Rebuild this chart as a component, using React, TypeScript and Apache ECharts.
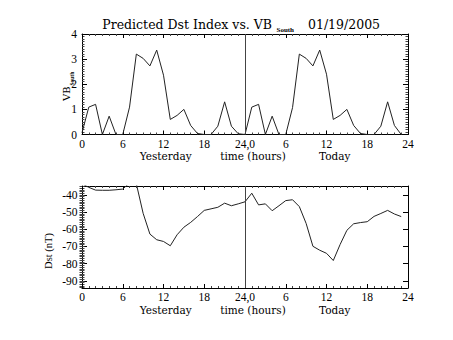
import React, { useEffect, useRef } from "react";
import * as echarts from "echarts";

// x tick labels (hours, 0..48 across two days)
const xTickLabels = ["0", "6", "12", "18", "24,0", "6", "12", "18", "24"];
const dayLabels = ["Yesterday", "time (hours)", "Today"];

// VB_South, hourly
const vbYesterday = [0.07, 1.09, 1.2, 0, 0.73, 0, 0, 1.09, 3.2, 3.03, 2.73, 3.36, 2.36, 0.6, 0.76, 1.0, 0.36, 0.04, 0, 0, 0.33, 1.3, 0.33, 0.03];
const vbToday = [0, 1.09, 1.2, 0, 0.73, 0, 0, 1.07, 3.2, 3.03, 2.73, 3.36, 2.4, 0.6, 0.76, 1.0, 0.36, 0.04, 0, 0, 0.33, 1.3, 0.36, 0];

// Dst (nT), hourly
const dstYesterday = [-33.5, -35.6, -37.2, -37.3, -37.3, -37.0, -36.6, -33.0, -33.5, -50.7, -62.8, -66.1, -67.1, -69.6, -63.2, -58.8, -56.0, -52.6, -49.0, -48.1, -47.2, -44.8, -46.3, -45.2];
const dstToday = [-44.0, -39.0, -45.8, -45.2, -49.2, -46.3, -43.3, -42.8, -46.8, -56.6, -69.9, -72.2, -74.0, -78.2, -68.9, -60.6, -56.8, -56.1, -55.6, -52.5, -50.8, -49.0, -51.1, -52.6];

const vbRange = [0, 4];
const dstRange = [-94.2, -34.8];
const dstMajorTicks = [-90, -80, -70, -60, -50, -40];
const dstMinorTicks: number[] = [];
for (let v = -94; v <= -35; v++) dstMinorTicks.push(v);

const SERIF = "Liberation Serif";
const TSERIF = "DejaVu Serif";

const G0 = { left: 82, width: 326, top: 34, height: 100.5 };
const G1 = { left: 82, width: 326, top: 186, height: 102 };

const MINOR = "#444";

function xAxes(gridIndex: number) {
  const base = {
    type: "value" as const,
    gridIndex,
    min: 0,
    max: 48,
    interval: 6,
    axisLine: { show: true, onZero: false, lineStyle: { color: "#000", width: 1 } },
    axisTick: { show: true, inside: true, length: 4, lineStyle: { color: "#000" } },
    minorTick: { show: true, splitNumber: 6, length: 2, lineStyle: { color: MINOR } },
    splitLine: { show: false },
  };
  return [
    {
      ...base,
      position: "bottom",
      axisLabel: {
        show: true,
        margin: 3,
        color: "#000",
        fontFamily: SERIF,
        fontSize: 11.5,
        formatter: (v: number) => xTickLabels[Math.round(v / 6)] ?? "",
      },
    },
    { ...base, position: "top", axisLabel: { show: false } },
  ];
}

function App() {
  const ref = useRef<HTMLDivElement>(null);
  useEffect(() => {
    if (!ref.current) return;
    const chart = echarts.init(ref.current, undefined, { renderer: "svg" });
    const lineCommon = {
      type: "line" as const,
      showSymbol: false,
      symbol: "none",
      clip: true,
      lineStyle: { color: "#222", width: 1 },
      itemStyle: { color: "#222" },
    };
    const vLine = {
      silent: true,
      symbol: ["none", "none"],
      label: { show: false },
      lineStyle: { color: "#444", width: 1, type: "solid" as const },
      data: [{ xAxis: 24 }],
    };
    const yBase = {
      type: "value" as const,
      axisLine: { show: true, onZero: false, lineStyle: { color: "#000", width: 1 } },
      splitLine: { show: false },
    };
    const option: any = {
      animation: false,
      backgroundColor: "#fff",
      grid: [
        { ...G0, containLabel: false },
        { ...G1, containLabel: false },
      ],
      xAxis: [...xAxes(0), ...xAxes(1)],
      yAxis: [
        {
          ...yBase,
          gridIndex: 0,
          position: "left",
          min: vbRange[0],
          max: vbRange[1],
          interval: 1,
          axisTick: { show: true, inside: true, length: 5, lineStyle: { color: "#000" } },
          minorTick: { show: true, splitNumber: 10, length: 2.5, lineStyle: { color: MINOR } },
          axisLabel: { show: true, margin: 5, color: "#000", fontFamily: SERIF, fontSize: 11.5 },
        },
        {
          ...yBase,
          gridIndex: 0,
          position: "right",
          min: vbRange[0],
          max: vbRange[1],
          interval: 1,
          axisTick: { show: true, inside: true, length: 5, lineStyle: { color: "#000" } },
          minorTick: { show: true, splitNumber: 10, length: 2.5, lineStyle: { color: MINOR } },
          axisLabel: { show: false },
        },
        {
          ...yBase,
          gridIndex: 1,
          position: "left",
          min: dstRange[0],
          max: dstRange[1],
          axisTick: { show: true, inside: true, length: 5, customValues: dstMajorTicks, lineStyle: { color: "#000" } },
          axisLabel: { show: true, margin: 4.5, color: "#000", fontFamily: SERIF, fontSize: 11.5, customValues: dstMajorTicks },
        },
        {
          ...yBase,
          gridIndex: 1,
          position: "left",
          min: dstRange[0],
          max: dstRange[1],
          axisLine: { show: false },
          axisTick: { show: true, inside: true, length: 2.5, customValues: dstMinorTicks, lineStyle: { color: MINOR } },
          axisLabel: { show: false },
        },
        {
          ...yBase,
          gridIndex: 1,
          position: "right",
          min: dstRange[0],
          max: dstRange[1],
          axisTick: { show: true, inside: true, length: 5, customValues: dstMajorTicks, lineStyle: { color: "#000" } },
          axisLabel: { show: false },
        },
        {
          ...yBase,
          gridIndex: 1,
          position: "right",
          min: dstRange[0],
          max: dstRange[1],
          axisLine: { show: false },
          axisTick: { show: true, inside: true, length: 2.5, customValues: dstMinorTicks, lineStyle: { color: MINOR } },
          axisLabel: { show: false },
        },
      ],
      series: [
        {
          ...lineCommon,
          name: "VB South",
          xAxisIndex: 0,
          yAxisIndex: 0,
          data: [...vbYesterday, ...vbToday].map((v, i) => [i, v]),
          markLine: vLine,
        },
        {
          ...lineCommon,
          name: "Dst",
          xAxisIndex: 2,
          yAxisIndex: 2,
          data: [...dstYesterday, ...dstToday].map((v, i) => [i, v]),
          markLine: vLine,
        },
      ],
      graphic: [
        {
          type: "text",
          x: 272,
          y: 24.5,
          style: { text: "Predicted Dst Index vs. VB", font: `12.5px '${TSERIF}'`, fill: "#000", align: "right", verticalAlign: "middle" },
        },
        {
          type: "text",
          x: 276.5,
          y: 29.5,
          style: { text: "South", font: `bold 7px '${SERIF}'`, fill: "#000", align: "left", verticalAlign: "middle" },
        },
        {
          type: "text",
          x: 308,
          y: 24.5,
          style: { text: "01/19/2005", font: `12.5px '${TSERIF}'`, fill: "#000", align: "left", verticalAlign: "middle" },
        },
        // x titles, top plot
        ...[165.7, 253, 334.7].map((cx, i) => ({
          type: "text",
          x: cx,
          y: 156,
          style: { text: dayLabels[i], font: `10.5px '${TSERIF}'`, fill: "#000", align: "center", verticalAlign: "middle" },
        })),
        // x titles, bottom plot
        ...[165.7, 253, 334.7].map((cx, i) => ({
          type: "text",
          x: cx,
          y: 309.5,
          style: { text: dayLabels[i], font: `10.5px '${TSERIF}'`, fill: "#000", align: "center", verticalAlign: "middle" },
        })),
        {
          type: "group",
          x: 70,
          y: 86,
          rotation: Math.PI / 2,
          children: [
            { type: "text", x: -0.5, y: -3.5, style: { text: "VB", font: `10px '${TSERIF}'`, fill: "#000", align: "right", verticalAlign: "middle" } },
            { type: "text", x: 0.5, y: 2, style: { text: "South", font: `bold 5.5px '${SERIF}'`, fill: "#000", align: "left", verticalAlign: "middle" } },
          ],
        },
        {
          type: "group",
          x: 48.5,
          y: 251,
          rotation: Math.PI / 2,
          children: [
            { type: "text", x: 0, y: 0, style: { text: "Dst (nT)", font: `10.5px '${SERIF}'`, fill: "#000", align: "center", verticalAlign: "middle" } },
          ],
        },
      ],
    };
    chart.setOption(option);
    return () => chart.dispose();
  }, []);
  return <div ref={ref} style={{ position: "fixed", left: 0, top: 0, width: 453, height: 340 }} />;
}

export default App;
